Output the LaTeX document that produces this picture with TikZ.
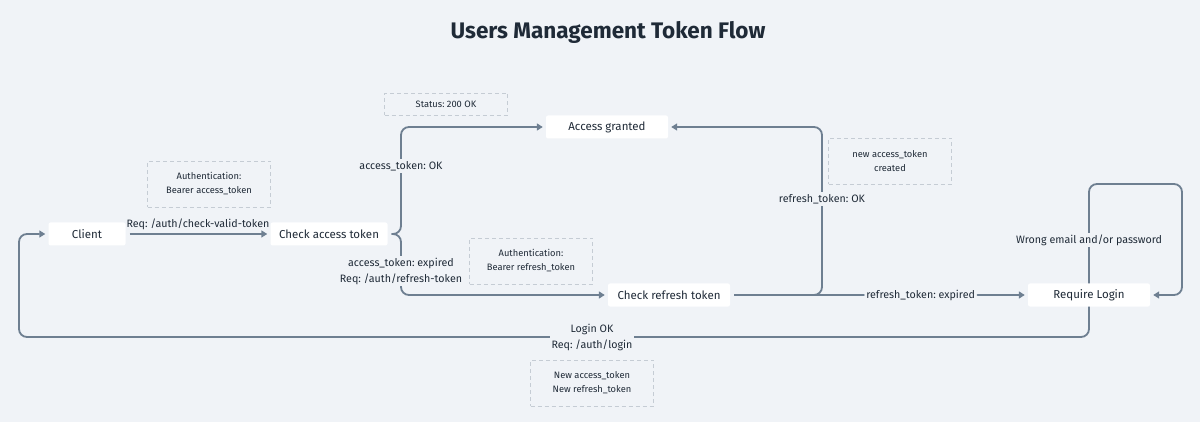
\documentclass[tikz,border=0pt]{standalone}
\usepackage{fontspec}
\setmainfont{Fira Sans}
\frenchspacing
\usetikzlibrary{arrows.meta}
\definecolor{bgcol}{HTML}{F0F3F7}
\definecolor{linecol}{HTML}{6E7F91}
\definecolor{textcol}{HTML}{1F2A37}
\definecolor{notecol}{HTML}{C5CCD4}
\tikzset{
    state box/.style={fill=white, rounded corners=2pt, minimum height=23pt, inner sep=0pt, text=textcol, font=\fontsize{11.5}{13}\selectfont}, % 状态框
    note box/.style={draw=notecol, line width=0.9pt, dash pattern=on 4pt off 3pt, minimum width=123pt, minimum height=46pt, align=center, text=textcol, font=\fontsize{9.3}{14}\selectfont}, % 虚线注释框
    flow/.style={draw=linecol, line width=1.8pt, rounded corners=8pt, -{Triangle[length=6pt, width=7pt]}}, % 连线
    edge label/.style={fill=bgcol, inner sep=2pt, align=center, text=textcol, font=\fontsize{10.7}{16}\selectfont} % 线上的文字
}
\begin{document}
\begin{tikzpicture}[x=1pt, y=-1pt]
    \fill[bgcol] (0,0) rectangle (1200,422);
    \useasboundingbox (0,0) rectangle (1200,422);

    \node[text=textcol, font=\fontsize{22.5}{26}\selectfont\bfseries] (title) at (608,32) {Users Management Token Flow};

    % 状态
    \node[state box, minimum width=77pt] (client) at (87,234) {Client};
    \node[state box, minimum width=117pt] (cat) at (329,234) {Check access token};
    \node[state box, minimum width=122pt] (ag) at (607,127) {Access granted};
    \node[state box, minimum width=122pt] (crt) at (669,295) {Check refresh token};
    \node[state box, minimum width=122pt] (rl) at (1089,295) {Require Login};

    % 注释
    \node[note box] (n1) at (209,184) {Authentication:\\Bearer access\_token};
    \node[note box, minimum height=22pt] (n2) at (446,104) {Status: 200 OK};
    \node[note box] (n3) at (531,261) {Authentication:\\Bearer refresh\_token};
    \node[note box] (n4) at (890,161) {new access\_token\\created};
    \node[note box] (n5) at (592,383) {New access\_token\\New refresh\_token};

    \coordinate (split) at (401,234);
    \coordinate (rok) at (822,295);
    \coordinate (loop) at (1182,184);
    \coordinate (back) at (19,337);

    \draw[flow, shorten <=4pt, shorten >=3pt] (client.east) -- (cat.west) node[edge label, fill=none, midway, above=1pt] {Req: /auth/check-valid-token};
    \draw[flow, shorten <=4pt, shorten >=3pt] (cat.east) -- (split) |- (ag.west);
    \draw[flow, shorten <=4pt, shorten >=3pt] (cat.east) -- (split) |- (crt.west);
    \draw[flow, shorten <=4pt, shorten >=3pt] (crt.east) -- (rl.west) node[edge label, pos=0.64] {refresh\_token: expired};
    \draw[flow, shorten <=4pt, shorten >=3pt] (crt.east) -- (rok) |- (ag.east);
    \draw[flow, shorten <=0pt, shorten >=3pt] (rl.north) |- (loop) |- (rl.east);
    \draw[flow, shorten <=0pt, shorten >=3pt] (rl.south) |- (back) |- (client.west);

    % 线上的标签
    \node[edge label] (l1) at (401,166) {access\_token: OK};
    \node[edge label] (l2) at (401,271) {access\_token: expired\\Req: /auth/refresh-token};
    \node[edge label] (l3) at (822,199) {refresh\_token: OK};
    \node[edge label] (l4) at (1089,240) {Wrong email and/or password};
    \node[edge label] (l5) at (592,337) {Login OK\\Req: /auth/login};
\end{tikzpicture}
\end{document}
